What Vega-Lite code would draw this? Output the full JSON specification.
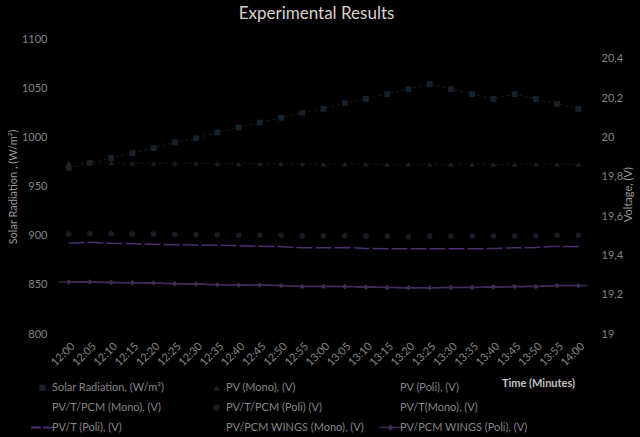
{
  "$schema": "https://vega.github.io/schema/vega-lite/v6.json",
  "width": 531,
  "height": 295,
  "autosize": {"type": "none"},
  "padding": {"left": 58, "top": 39, "right": 51, "bottom": 103},
  "background": "#000000",
  "config": {
    "view": {"stroke": null},
    "font": "Lato",
    "axis": {"grid": false, "domain": false, "ticks": false, "labelColor": "#858585", "labelFontSize": 11, "titleColor": "#9a9a9a", "titleFontSize": 11, "titleFontWeight": "normal"}
  },
  "title": {"text": "Experimental Results", "color": "#d9d0c9", "fontSize": 17, "fontWeight": "normal", "anchor": "middle", "dx": -7, "offset": 10},
  "data": {"values": [
    {"t":"12:00","s":"Solar Radiation, (W/m²)","v":969},
    {"t":"12:05","s":"Solar Radiation, (W/m²)","v":974},
    {"t":"12:10","s":"Solar Radiation, (W/m²)","v":979},
    {"t":"12:15","s":"Solar Radiation, (W/m²)","v":984},
    {"t":"12:20","s":"Solar Radiation, (W/m²)","v":989},
    {"t":"12:25","s":"Solar Radiation, (W/m²)","v":995},
    {"t":"12:30","s":"Solar Radiation, (W/m²)","v":999},
    {"t":"12:35","s":"Solar Radiation, (W/m²)","v":1005},
    {"t":"12:40","s":"Solar Radiation, (W/m²)","v":1010},
    {"t":"12:45","s":"Solar Radiation, (W/m²)","v":1015},
    {"t":"12:50","s":"Solar Radiation, (W/m²)","v":1020},
    {"t":"12:55","s":"Solar Radiation, (W/m²)","v":1025},
    {"t":"13:00","s":"Solar Radiation, (W/m²)","v":1029},
    {"t":"13:05","s":"Solar Radiation, (W/m²)","v":1035},
    {"t":"13:10","s":"Solar Radiation, (W/m²)","v":1039},
    {"t":"13:15","s":"Solar Radiation, (W/m²)","v":1044},
    {"t":"13:20","s":"Solar Radiation, (W/m²)","v":1049},
    {"t":"13:25","s":"Solar Radiation, (W/m²)","v":1054},
    {"t":"13:30","s":"Solar Radiation, (W/m²)","v":1049},
    {"t":"13:35","s":"Solar Radiation, (W/m²)","v":1044},
    {"t":"13:40","s":"Solar Radiation, (W/m²)","v":1039},
    {"t":"13:45","s":"Solar Radiation, (W/m²)","v":1044},
    {"t":"13:50","s":"Solar Radiation, (W/m²)","v":1039},
    {"t":"13:55","s":"Solar Radiation, (W/m²)","v":1034},
    {"t":"14:00","s":"Solar Radiation, (W/m²)","v":1029},
    {"t":"12:00","s":"PV (Mono), (V)","v":19.87},
    {"t":"12:05","s":"PV (Mono), (V)","v":19.87},
    {"t":"12:10","s":"PV (Mono), (V)","v":19.87},
    {"t":"12:15","s":"PV (Mono), (V)","v":19.868},
    {"t":"12:20","s":"PV (Mono), (V)","v":19.868},
    {"t":"12:25","s":"PV (Mono), (V)","v":19.868},
    {"t":"12:30","s":"PV (Mono), (V)","v":19.868},
    {"t":"12:35","s":"PV (Mono), (V)","v":19.866},
    {"t":"12:40","s":"PV (Mono), (V)","v":19.866},
    {"t":"12:45","s":"PV (Mono), (V)","v":19.866},
    {"t":"12:50","s":"PV (Mono), (V)","v":19.866},
    {"t":"12:55","s":"PV (Mono), (V)","v":19.866},
    {"t":"13:00","s":"PV (Mono), (V)","v":19.864},
    {"t":"13:05","s":"PV (Mono), (V)","v":19.864},
    {"t":"13:10","s":"PV (Mono), (V)","v":19.864},
    {"t":"13:15","s":"PV (Mono), (V)","v":19.862},
    {"t":"13:20","s":"PV (Mono), (V)","v":19.862},
    {"t":"13:25","s":"PV (Mono), (V)","v":19.862},
    {"t":"13:30","s":"PV (Mono), (V)","v":19.862},
    {"t":"13:35","s":"PV (Mono), (V)","v":19.862},
    {"t":"13:40","s":"PV (Mono), (V)","v":19.862},
    {"t":"13:45","s":"PV (Mono), (V)","v":19.862},
    {"t":"13:50","s":"PV (Mono), (V)","v":19.864},
    {"t":"13:55","s":"PV (Mono), (V)","v":19.864},
    {"t":"14:00","s":"PV (Mono), (V)","v":19.862},
    {"t":"12:00","s":"PV/T/PCM (Poli) (V)","v":19.508},
    {"t":"12:05","s":"PV/T/PCM (Poli) (V)","v":19.51},
    {"t":"12:10","s":"PV/T/PCM (Poli) (V)","v":19.51},
    {"t":"12:15","s":"PV/T/PCM (Poli) (V)","v":19.508},
    {"t":"12:20","s":"PV/T/PCM (Poli) (V)","v":19.508},
    {"t":"12:25","s":"PV/T/PCM (Poli) (V)","v":19.506},
    {"t":"12:30","s":"PV/T/PCM (Poli) (V)","v":19.505},
    {"t":"12:35","s":"PV/T/PCM (Poli) (V)","v":19.505},
    {"t":"12:40","s":"PV/T/PCM (Poli) (V)","v":19.502},
    {"t":"12:45","s":"PV/T/PCM (Poli) (V)","v":19.502},
    {"t":"12:50","s":"PV/T/PCM (Poli) (V)","v":19.502},
    {"t":"12:55","s":"PV/T/PCM (Poli) (V)","v":19.5},
    {"t":"13:00","s":"PV/T/PCM (Poli) (V)","v":19.5},
    {"t":"13:05","s":"PV/T/PCM (Poli) (V)","v":19.5},
    {"t":"13:10","s":"PV/T/PCM (Poli) (V)","v":19.497},
    {"t":"13:15","s":"PV/T/PCM (Poli) (V)","v":19.497},
    {"t":"13:20","s":"PV/T/PCM (Poli) (V)","v":19.494},
    {"t":"13:25","s":"PV/T/PCM (Poli) (V)","v":19.497},
    {"t":"13:30","s":"PV/T/PCM (Poli) (V)","v":19.497},
    {"t":"13:35","s":"PV/T/PCM (Poli) (V)","v":19.497},
    {"t":"13:40","s":"PV/T/PCM (Poli) (V)","v":19.498},
    {"t":"13:45","s":"PV/T/PCM (Poli) (V)","v":19.498},
    {"t":"13:50","s":"PV/T/PCM (Poli) (V)","v":19.5},
    {"t":"13:55","s":"PV/T/PCM (Poli) (V)","v":19.502},
    {"t":"14:00","s":"PV/T/PCM (Poli) (V)","v":19.502},
    {"t":"12:00","s":"PV/T (Poli), (V)","v":19.461},
    {"t":"12:05","s":"PV/T (Poli), (V)","v":19.466},
    {"t":"12:10","s":"PV/T (Poli), (V)","v":19.461},
    {"t":"12:15","s":"PV/T (Poli), (V)","v":19.459},
    {"t":"12:20","s":"PV/T (Poli), (V)","v":19.456},
    {"t":"12:25","s":"PV/T (Poli), (V)","v":19.454},
    {"t":"12:30","s":"PV/T (Poli), (V)","v":19.452},
    {"t":"12:35","s":"PV/T (Poli), (V)","v":19.451},
    {"t":"12:40","s":"PV/T (Poli), (V)","v":19.449},
    {"t":"12:45","s":"PV/T (Poli), (V)","v":19.446},
    {"t":"12:50","s":"PV/T (Poli), (V)","v":19.444},
    {"t":"12:55","s":"PV/T (Poli), (V)","v":19.438},
    {"t":"13:00","s":"PV/T (Poli), (V)","v":19.438},
    {"t":"13:05","s":"PV/T (Poli), (V)","v":19.44},
    {"t":"13:10","s":"PV/T (Poli), (V)","v":19.435},
    {"t":"13:15","s":"PV/T (Poli), (V)","v":19.433},
    {"t":"13:20","s":"PV/T (Poli), (V)","v":19.433},
    {"t":"13:25","s":"PV/T (Poli), (V)","v":19.433},
    {"t":"13:30","s":"PV/T (Poli), (V)","v":19.433},
    {"t":"13:35","s":"PV/T (Poli), (V)","v":19.433},
    {"t":"13:40","s":"PV/T (Poli), (V)","v":19.435},
    {"t":"13:45","s":"PV/T (Poli), (V)","v":19.438},
    {"t":"13:50","s":"PV/T (Poli), (V)","v":19.44},
    {"t":"13:55","s":"PV/T (Poli), (V)","v":19.446},
    {"t":"14:00","s":"PV/T (Poli), (V)","v":19.444},
    {"t":"12:00","s":"PV/PCM WINGS (Poli), (V)","v":19.264},
    {"t":"12:05","s":"PV/PCM WINGS (Poli), (V)","v":19.264},
    {"t":"12:10","s":"PV/PCM WINGS (Poli), (V)","v":19.262},
    {"t":"12:15","s":"PV/PCM WINGS (Poli), (V)","v":19.261},
    {"t":"12:20","s":"PV/PCM WINGS (Poli), (V)","v":19.259},
    {"t":"12:25","s":"PV/PCM WINGS (Poli), (V)","v":19.256},
    {"t":"12:30","s":"PV/PCM WINGS (Poli), (V)","v":19.254},
    {"t":"12:35","s":"PV/PCM WINGS (Poli), (V)","v":19.251},
    {"t":"12:40","s":"PV/PCM WINGS (Poli), (V)","v":19.249},
    {"t":"12:45","s":"PV/PCM WINGS (Poli), (V)","v":19.249},
    {"t":"12:50","s":"PV/PCM WINGS (Poli), (V)","v":19.246},
    {"t":"12:55","s":"PV/PCM WINGS (Poli), (V)","v":19.242},
    {"t":"13:00","s":"PV/PCM WINGS (Poli), (V)","v":19.242},
    {"t":"13:05","s":"PV/PCM WINGS (Poli), (V)","v":19.241},
    {"t":"13:10","s":"PV/PCM WINGS (Poli), (V)","v":19.239},
    {"t":"13:15","s":"PV/PCM WINGS (Poli), (V)","v":19.237},
    {"t":"13:20","s":"PV/PCM WINGS (Poli), (V)","v":19.235},
    {"t":"13:25","s":"PV/PCM WINGS (Poli), (V)","v":19.235},
    {"t":"13:30","s":"PV/PCM WINGS (Poli), (V)","v":19.237},
    {"t":"13:35","s":"PV/PCM WINGS (Poli), (V)","v":19.237},
    {"t":"13:40","s":"PV/PCM WINGS (Poli), (V)","v":19.239},
    {"t":"13:45","s":"PV/PCM WINGS (Poli), (V)","v":19.241},
    {"t":"13:50","s":"PV/PCM WINGS (Poli), (V)","v":19.242},
    {"t":"13:55","s":"PV/PCM WINGS (Poli), (V)","v":19.246},
    {"t":"14:00","s":"PV/PCM WINGS (Poli), (V)","v":19.246}
  ]},
  "encoding": {
    "x": {
      "field": "t", "type": "ordinal",
      "scale": {"type": "point", "padding": 0.5, "domain": ["12:00","12:05","12:10","12:15","12:20","12:25","12:30","12:35","12:40","12:45","12:50","12:55","13:00","13:05","13:10","13:15","13:20","13:25","13:30","13:35","13:40","13:45","13:50","13:55","14:00"]},
      "axis": {"title": "Time (Minutes)", "labelAngle": -45, "labelPadding": 6, "titleX": 480, "titleY": 49, "titleAlign": "center", "titleBaseline": "middle", "titleColor": "#c0c0c0", "titleFontWeight": "bold"}
    }
  },
  "layer": [
    {
      "transform": [{"filter": "datum.s === 'Solar Radiation, (W/m²)'"}],
      "encoding": {
        "y": {"field": "v", "type": "quantitative",
          "scale": {"domain": [800, 1100], "nice": false, "zero": false},
          "axis": {"orient": "left", "title": "Solar Radiation , (W/m²)", "format": "d", "values": [800,850,900,950,1000,1050,1100], "labelPadding": 11, "titleX": -45, "titleY": 147.5, "titleAngle": 270, "titleAlign": "center", "titleBaseline": "middle"}}
      },
      "layer": [
        {"mark": {"type": "line", "color": "#142029", "strokeDash": [3, 3], "strokeWidth": 1}},
        {"mark": {"type": "point", "filled": true, "size": 34, "opacity": 1},
         "encoding": {
           "color": {"field": "s", "type": "nominal",
             "scale": {"domain": ["Solar Radiation, (W/m²)","PV (Mono), (V)","PV (Poli), (V)","PV/T/PCM (Mono), (V)","PV/T/PCM (Poli) (V)","PV/T(Mono), (V)","PV/T (Poli), (V)","PV/PCM WINGS (Mono), (V)","PV/PCM WINGS (Poli), (V)"],
                       "range": ["#15222d","#1f1f1f","#000000","#000000","#201a27","#000000","#4c2c72","#000000","#3e2c55"]},
             "legend": {"title": null, "orient": "none", "direction": "horizontal", "legendX": -21, "legendY": 343, "columns": 3, "gridAlign": "all", "columnPadding": 15, "rowPadding": 8, "labelColor": "#858585", "labelFontSize": 11, "symbolSize": 40, "labelOffset": 4, "labelLimit": 250}},
           "shape": {"field": "s", "type": "nominal",
             "scale": {"domain": ["Solar Radiation, (W/m²)","PV (Mono), (V)","PV (Poli), (V)","PV/T/PCM (Mono), (V)","PV/T/PCM (Poli) (V)","PV/T(Mono), (V)","PV/T (Poli), (V)","PV/PCM WINGS (Mono), (V)","PV/PCM WINGS (Poli), (V)"],
                       "range": ["square","triangle-up","circle","circle","circle","circle","M-3.6,-0.3H-0.5V0.3H-3.6Z M0.1,-0.3H3.3V0.3H0.1Z","circle","M-3.6,-0.25H3.3V0.25H-3.6Z M0,-1L1,0L0,1L-1,0Z"]},
             "legend": {"title": null, "orient": "none", "direction": "horizontal", "legendX": -21, "legendY": 343, "columns": 3, "gridAlign": "all", "columnPadding": 15, "rowPadding": 8, "labelColor": "#858585", "labelFontSize": 11, "symbolSize": 40, "labelOffset": 4, "labelLimit": 250}}
         }}
      ]
    },
    {
      "transform": [{"filter": "datum.s !== 'Solar Radiation, (W/m²)'"}],
      "encoding": {
        "y": {"field": "v", "type": "quantitative",
          "scale": {"domain": [19, 20.5], "nice": false, "zero": false},
          "axis": {"orient": "right", "title": "Voltage, (V)", "values": [19,19.2,19.4,19.6,19.8,20,20.2,20.4], "labelExpr": "replace(toString(datum.value), '.', ',')", "labelPadding": 12, "titleX": 39, "titleY": 155, "titleAngle": 270, "titleAlign": "center", "titleBaseline": "middle"}}
      },
      "layer": [
        {"transform": [{"filter": "datum.s === 'PV (Mono), (V)'"}], "mark": {"type": "line", "color": "#161616", "strokeDash": [3, 3], "strokeWidth": 1}},
        {"transform": [{"filter": "datum.s === 'PV/T (Poli), (V)'"}], "mark": {"type": "line", "color": "#4c2c72", "strokeDash": [16, 3], "strokeWidth": 1.5}},
        {"transform": [{"filter": "datum.s === 'PV/PCM WINGS (Poli), (V)'"}], "mark": {"type": "line", "color": "#4c2c72", "strokeWidth": 1.5}},
        {"transform": [{"filter": "datum.s !== 'PV/T (Poli), (V)'"}],
         "mark": {"type": "point", "filled": true, "size": 30, "opacity": 1},
         "encoding": {
           "color": {"field": "s", "type": "nominal"},
           "shape": {"field": "s", "type": "nominal"}
         }}
      ]
    }
  ],
  "resolve": {"scale": {"y": "independent"}}
}
